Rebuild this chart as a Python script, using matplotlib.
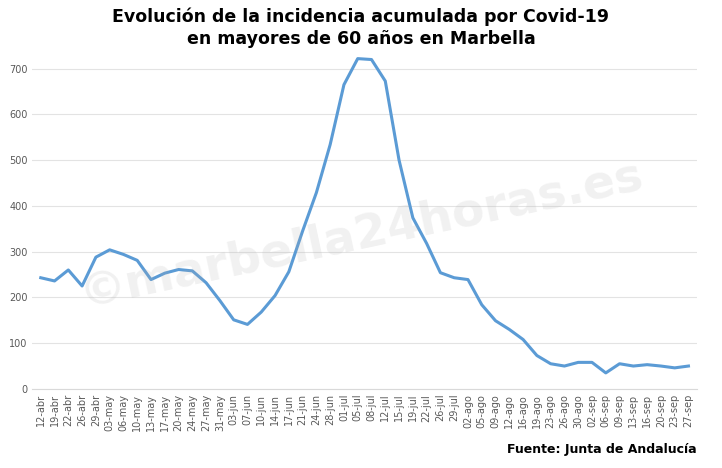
import numpy as np
import matplotlib.pyplot as plt

# ==========================[Data]=============================
fechas = ['12-abr', '19-abr', '22-abr', '26-abr', '29-abr', '03-may', '06-may', '10-may',
          '13-may', '17-may', '20-may', '24-may', '27-may', '31-may', '03-jun', '07-jun',
          '10-jun', '14-jun', '17-jun', '21-jun', '24-jun', '28-jun', '01-jul', '05-jul',
          '08-jul', '12-jul', '15-jul', '19-jul', '22-jul', '26-jul', '29-jul', '02-ago',
          '05-ago', '09-ago', '12-ago', '16-ago', '19-ago', '23-ago', '26-ago', '30-ago',
          '02-sep', '06-sep', '09-sep', '13-sep', '16-sep', '20-sep', '23-sep', '27-sep']
incidencia = [243, 236, 260, 225, 288, 304, 294, 281, 239, 253, 261, 258, 232, 193,
              151, 141, 168, 204, 256, 345, 429, 534, 665, 722, 720, 673, 500, 374,
              318, 254, 243, 239, 184, 149, 130, 108, 73, 55, 50, 58, 58, 35, 55,
              50, 53, 50, 46, 50]
yticks = [0, 100, 200, 300, 400, 500, 600, 700]

# ==========================[Plot]=============================
fig = plt.figure(figsize=(7.22, 4.68), dpi=100)
ax = fig.add_axes([0.045, 0.169, 0.92, 0.782])

x = np.arange(len(fechas))
ax.plot(x, incidencia, color='#5b9bd5', lw=2.2)

ax.set_xlim(-0.6, len(fechas) - 0.4)
ax.set_ylim(0, 800)
ax.set_yticks(yticks)
ax.set_xticks(x)
ax.set_xticklabels(fechas, rotation=90, fontsize=7, color='#595959')
ax.tick_params(axis='y', labelsize=7, colors='#595959', length=0)
ax.tick_params(axis='x', length=0)
ax.grid(axis='y', color='#e3e3e3', lw=0.8)
ax.set_axisbelow(True)
for s in ['top', 'right', 'left']:
    ax.spines[s].set_visible(False)
ax.spines['bottom'].set_color('#d9d9d9')

fig.text(0.5, 0.985, 'Evolución de la incidencia acumulada por Covid-19\nen mayores de 60 años en Marbella',
         ha='center', va='top', fontsize=12.5, fontweight='bold', linespacing=1.35)
fig.text(0.965, 0.025, 'Fuente: Junta de Andalucía', ha='right', va='bottom',
         fontsize=9, fontweight='bold')
fig.text(0.5, 0.5, '©marbella24horas.es', ha='center', va='center', fontsize=34,
         fontweight='bold', color='#b0b0b0', alpha=0.18, rotation=12)

plt.savefig('out.png', dpi=100)
